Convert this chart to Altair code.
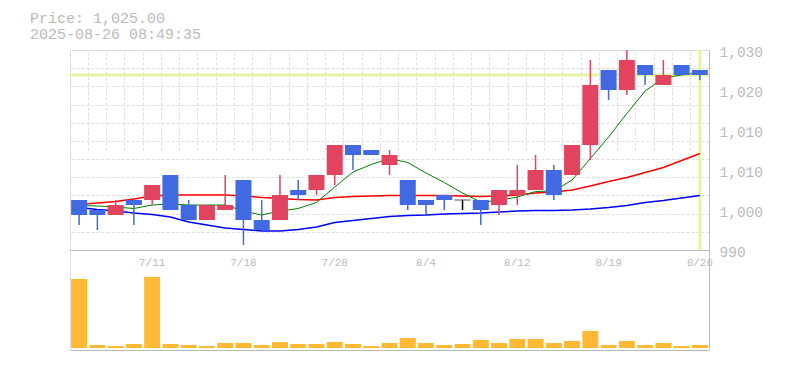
import altair as alt
import pandas as pd

dates = ['7/7', '7/8', '7/9', '7/10', '7/11', '7/14', '7/15', '7/16', '7/17', '7/18',
         '7/22', '7/23', '7/24', '7/25', '7/28', '7/29', '7/30', '7/31', '8/1', '8/4',
         '8/5', '8/6', '8/7', '8/8', '8/12', '8/13', '8/14', '8/15', '8/18', '8/19',
         '8/20', '8/21', '8/22', '8/25', '8/26']
opens = [1000, 998, 997, 1000, 1000, 1005, 999, 996, 998, 1004,
         996, 996, 1002, 1002, 1005, 1011, 1010, 1007, 1004, 1000,
         1001, 1000, 1000, 999, 1001, 1002, 1006, 1005, 1011, 1026,
         1022, 1027, 1023, 1027, 1026]
highs = [1000, 998, 1000, 1000, 1003, 1005, 1000, 999, 1005, 1004,
         1000, 1005, 1004, 1005, 1011, 1011, 1010, 1010, 1004, 1000,
         1001, 1000, 1000, 1002, 1007, 1009, 1007, 1011, 1028, 1026,
         1030, 1027, 1028, 1027, 1026]
lows = [995, 994, 997, 995, 999, 998, 996, 996, 998, 991,
        994, 996, 1000, 1001, 1003, 1006, 1009, 1005, 998, 997,
        998, 998, 995, 997, 999, 1002, 1000, 1005, 1008, 1020,
        1021, 1023, 1023, 1025, 1024]
closes = [997, 997, 999, 999, 1003, 998, 996, 999, 999, 996,
          994, 1001, 1001, 1005, 1011, 1009, 1009, 1009, 999, 999,
          1000, 1000, 998, 1002, 1002, 1006, 1001, 1011, 1023, 1022,
          1028, 1025, 1025, 1025, 1025]
ma5 = [998.9, 998.8, 998.6, 998.3, 999.0, 999.2, 999.0, 999.0, 999.0, 997.8,
       997.0, 997.8, 998.3, 999.5, 1002.6, 1005.6, 1007.1, 1008.3, 1007.5, 1005.4,
       1003.5, 1001.4, 999.6, 999.9, 1000.6, 1001.7, 1001.8, 1004.0, 1008.3, 1012.6,
       1017.3, 1021.8, 1024.4, 1025.0, 1025.5]
ma25 = [999.1, 999.4, 999.7, 1000.2, 1000.8, 1001.0, 1001.0, 1001.0, 1001.0, 1000.8,
        1000.5, 1000.3, 1000.1, 1000.0, 1000.5, 1000.7, 1000.8, 1000.9, 1000.9, 1000.9,
        1000.9, 1000.8, 1000.7, 1000.8, 1001.0, 1001.4, 1001.6, 1002.0, 1002.8, 1003.7,
        1004.5, 1005.5, 1006.5, 1007.9, 1009.3]
ma75 = [998.5, 998.1, 997.8, 997.4, 997.1, 996.6, 995.6, 995.0, 994.4, 994.1,
        993.8, 993.8, 994.1, 994.6, 995.5, 995.9, 996.3, 996.7, 996.9, 997.0,
        997.2, 997.3, 997.4, 997.6, 997.8, 997.9, 997.9, 998.0, 998.2, 998.5,
        998.9, 999.5, 999.9, 1000.4, 1000.9]
volumes = [69, 3, 2, 4, 71, 4, 3, 2, 5, 5,
           3, 6, 4, 4, 6, 4, 2, 5, 10, 5,
           3, 4, 8, 5, 9, 9, 5, 7, 17, 3,
           7, 3, 5, 2, 3]
x_labels = ['7/11', '7/18', '7/28', '8/4', '8/12', '8/19', '8/26']
price_ticks = [990, 998, 1006, 1014, 1022, 1030]
price_domain = [990, 1030]
volume_domain = [0, 100]
current_price = 1025.00
timestamp = '2025-08-26 08:49:35'

df = pd.DataFrame({'date': dates, 'open': opens, 'high': highs, 'low': lows,
                   'close': closes, 'vol': volumes,
                   'ma5': ma5, 'ma25': ma25, 'ma75': ma75})
df['dir'] = ['up' if c > o else ('down' if c < o else 'flat') for o, c in zip(opens, closes)]

RED = '#e2435f'
BLUE = '#4169e1'
ORANGE = '#ffb935'
HL = '#e3f5a3'
AX = '#bbbbbb'
GRID = '#dddddd'
FONT = 'Liberation Mono'

W, H = 639, 300
py = alt.Scale(domain=price_domain, range=[200, 0], nice=False, zero=False)
vy = alt.Scale(domain=volume_domain, range=[298, 198], nice=False, zero=False)
xs = alt.Scale(type='band', domain=dates, paddingInner=0, paddingOuter=0)

grid_vals = [price_domain[0] + (price_domain[1] - price_domain[0]) * k / 11 for k in range(12)]

color = alt.Color('dir:N', scale=alt.Scale(domain=['up', 'down', 'flat'],
                                           range=[RED, BLUE, '#000000']), legend=None)


def X(axis=None):
    return alt.X('date:O', scale=xs, sort=None, axis=axis, title=None)


base = alt.Chart(df)

# current price horizontal line (carries the price grid)
hline = alt.Chart(pd.DataFrame({'price': [current_price]})).mark_rule(
    color=HL, strokeWidth=3).encode(
    y=alt.Y('price:Q', scale=py, title=None,
            axis=alt.Axis(orient='right', values=grid_vals, grid=True, labels=False,
                          ticks=False, domain=False, gridColor=GRID, gridDash=[3, 2],
                          gridWidth=1, title=None)))

vline = alt.Chart(pd.DataFrame({'date': [dates[-1]], 'hi': [price_domain[1]],
                                'lo': [price_domain[0]]})).mark_rule(
    color=HL, strokeWidth=3).encode(
    x=X(),
    y=alt.Y('hi:Q', scale=py, axis=None, title=None),
    y2='lo:Q')

l75 = base.mark_line(color='#0000ff', strokeWidth=1.5).encode(
    x=X(), y=alt.Y('ma75:Q', scale=py, axis=None))
l25 = base.mark_line(color='#ff0000', strokeWidth=1.5).encode(
    x=X(), y=alt.Y('ma25:Q', scale=py, axis=None))
l5 = base.mark_line(color='#008000', strokeWidth=1).encode(
    x=X(), y=alt.Y('ma5:Q', scale=py, axis=None))

wicks = base.mark_rule(strokeWidth=1.5).encode(
    x=X(), y=alt.Y('low:Q', scale=py, axis=None), y2='high:Q', color=color)

bodies = base.transform_filter("datum.dir != 'flat'").mark_bar(size=16).encode(
    x=X(alt.Axis(values=x_labels, orient='bottom', offset=-100, grid=False, ticks=False,
                 domain=True, domainColor=AX, domainWidth=1, labelColor=AX,
                 labelFont=FONT, labelFontSize=11, labelPadding=6, labelAngle=0,
                 labelFlush=False, labelOverlap=False, title=None)),
    y=alt.Y('open:Q', scale=py, title=None,
            axis=alt.Axis(orient='right', values=price_ticks,
                          labelExpr="format(round(datum.value / 10) * 10, ',')",
                          grid=False, ticks=False, domain=True, domainColor=AX,
                          domainWidth=1, labelColor=AX, labelFont=FONT, labelFontSize=14.5,
                          labelPadding=10, labelOverlap=False, labelFlush=False,
                          labelBaseline='middle', labelOffset=2, title=None)),
    y2='close:Q', color=color)

doji = base.transform_filter("datum.dir == 'flat'").mark_tick(size=16, thickness=1).encode(
    x=X(), y=alt.Y('open:Q', scale=py, axis=None), color=color)

vol = base.mark_bar(size=16, color=ORANGE).encode(
    x=X(alt.Axis(bandPosition=0, grid=True, labels=False, ticks=False, domain=True,
                 domainColor=AX, domainWidth=1, gridColor=GRID, gridDash=[3, 2],
                 title=None)),
    y=alt.Y('vol:Q', scale=vy, title=None,
            axis=alt.Axis(orient='right', labels=False, ticks=False, grid=False,
                          domain=True, domainColor=AX, domainWidth=1, title=None)))

chart = alt.layer(vol, hline, vline, l75, l25, l5, wicks, bodies, doji).resolve_scale(
    y='independent').resolve_axis(x='independent', y='independent').properties(
    width=W, height=H,
    padding={'left': 70, 'top': 50, 'right': 76, 'bottom': 20},
    autosize=alt.AutoSizeParams(type='none'),
    title=alt.TitleParams(text=['Price: ' + f'{current_price:,.2f}', timestamp],
                          anchor='start', frame='group', dx=-40, offset=2,
                          font=FONT, fontSize=15, fontWeight='normal', color=AX,
                          lineHeight=16)
).configure_view(strokeOpacity=0).configure(background='white')

chart.save('out.html', embed_options={'renderer': 'svg', 'actions': False})
